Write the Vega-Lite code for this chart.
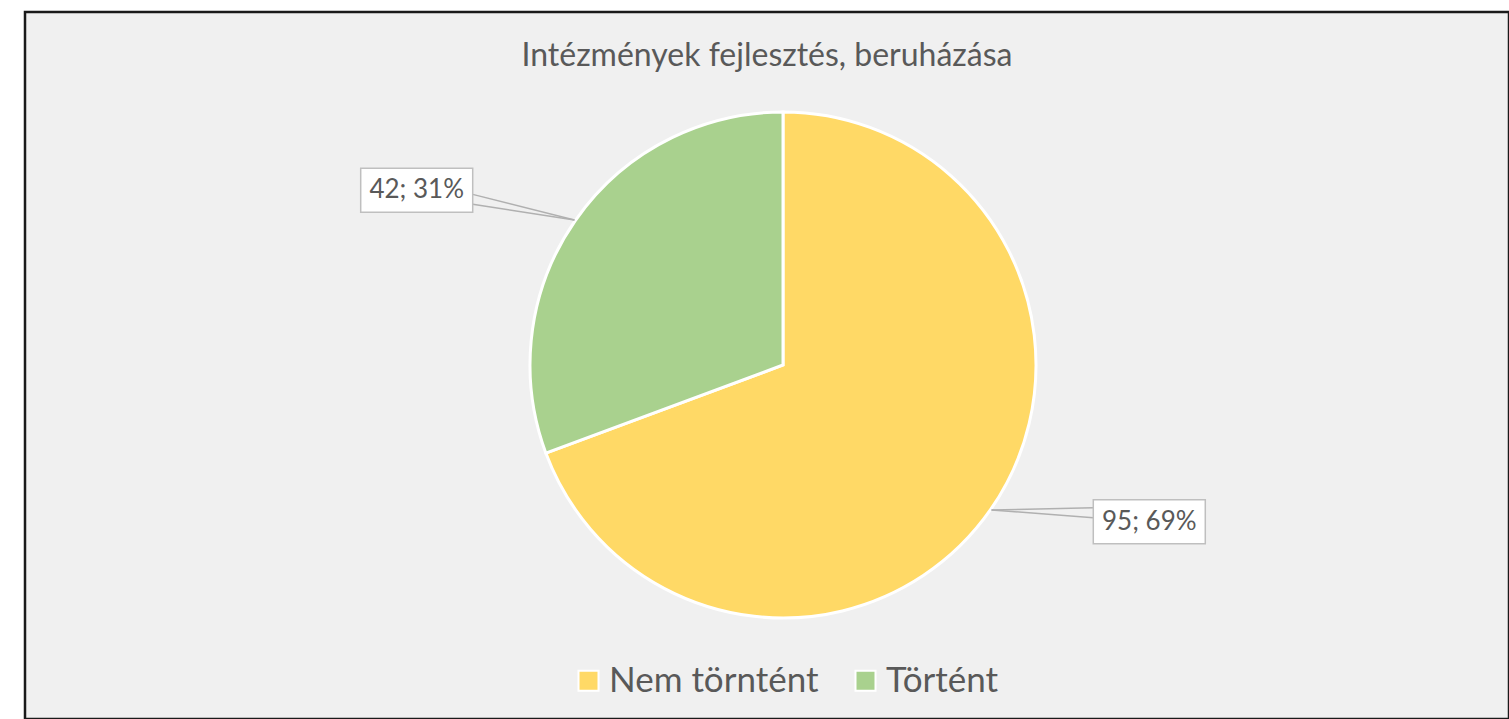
{
  "$schema": "https://vega.github.io/schema/vega-lite/v6.json",
  "width": 1484,
  "height": 707,
  "autosize": {"type": "none"},
  "padding": {"left": 25, "top": 12, "right": 0, "bottom": 0},
  "background": "white",
  "config": {
    "view": {"fill": "#f0f0f0", "stroke": "#1a1a1a", "strokeWidth": 2.5},
    "font": "Lato"
  },
  "title": {
    "text": "Intézmények fejlesztés, beruházása",
    "fontSize": 32,
    "font": "Lato",
    "fontWeight": "normal",
    "color": "#595959",
    "anchor": "middle",
    "baseline": "alphabetic",
    "offset": -86
  },
  "data": {
    "values": [
      {"category": "Nem törntént", "value": 95},
      {"category": "Történt", "value": 42}
    ]
  },
  "transform": [
    {"joinaggregate": [{"op": "sum", "field": "value", "as": "total"}]},
    {"window": [{"op": "sum", "field": "value", "as": "cum"}], "sort": [{"field": "category"}], "frame": [null, 0]},
    {"calculate": "2*PI*(datum.cum - datum.value/2)/datum.total", "as": "mid"},
    {"calculate": "datum.value + '; ' + round(100*datum.value/datum.total) + '%'", "as": "label"},
    {"calculate": "datum.mid - 0.183", "as": "la"},
    {"calculate": "402*sin(datum.la)", "as": "lx"},
    {"calculate": "402*cos(datum.la) + 9", "as": "ly"},
    {"calculate": "254*sin(datum.mid)", "as": "tx"},
    {"calculate": "254*cos(datum.mid)", "as": "ty"},
    {"calculate": "datum.lx - (datum.lx > 0 ? 1 : -1)*56", "as": "ex"},
    {"calculate": "datum.ly - (datum.ly > 0 ? 1 : -1)*4", "as": "ya"},
    {"calculate": "datum.ly - (datum.ly > 0 ? 1 : -1)*14", "as": "yb"},
    {"calculate": "datum.lx - 56", "as": "bx1"},
    {"calculate": "datum.lx + 56", "as": "bx2"},
    {"calculate": "datum.ly - 22", "as": "by1"},
    {"calculate": "datum.ly + 22", "as": "by2"}
  ],
  "layer": [
    {
      "mark": {"type": "arc", "outerRadius": 253, "stroke": "white", "strokeWidth": 3},
      "encoding": {
        "theta": {"field": "value", "type": "quantitative", "stack": true},
        "x": {"datum": 0, "type": "quantitative", "scale": {"domain": [-758, 726], "nice": false, "zero": false}, "axis": null},
        "y": {"datum": 0, "type": "quantitative", "scale": {"domain": [-354, 353], "nice": false, "zero": false}, "axis": null},
        "color": {
          "field": "category",
          "type": "nominal",
          "scale": {"domain": ["Nem törntént", "Történt"], "range": ["#FFD966", "#A9D18E"]},
          "legend": {
            "orient": "none",
            "legendX": 546,
            "legendY": 651,
            "direction": "horizontal",
            "title": null,
            "padding": 0,
            "symbolType": "square",
            "symbolSize": 400,
            "symbolStrokeColor": "white",
            "symbolStrokeWidth": 2,
            "symbolOpacity": 1,
            "labelFontSize": 35,
            "labelFont": "Lato",
            "labelColor": "#595959",
            "labelOffset": 3,
            "labelLimit": 0,
            "columnPadding": 29
          }
        }
      }
    },
    {
      "mark": {"type": "rule", "color": "#b0b0b0", "strokeWidth": 1.5},
      "encoding": {
        "x": {"field": "tx", "type": "quantitative"},
        "y": {"field": "ty", "type": "quantitative"},
        "x2": {"field": "ex"},
        "y2": {"field": "ya"}
      }
    },
    {
      "mark": {"type": "rule", "color": "#b0b0b0", "strokeWidth": 1.5},
      "encoding": {
        "x": {"field": "tx", "type": "quantitative"},
        "y": {"field": "ty", "type": "quantitative"},
        "x2": {"field": "ex"},
        "y2": {"field": "yb"}
      }
    },
    {
      "mark": {"type": "rect", "fill": "white", "stroke": "#bfbfbf", "strokeWidth": 1.5},
      "encoding": {
        "x": {"field": "bx1", "type": "quantitative"},
        "x2": {"field": "bx2"},
        "y": {"field": "by1", "type": "quantitative"},
        "y2": {"field": "by2"}
      }
    },
    {
      "mark": {"type": "text", "fontSize": 26, "font": "Lato", "color": "#595959", "align": "center", "baseline": "middle"},
      "encoding": {
        "x": {"field": "lx", "type": "quantitative"},
        "y": {"field": "ly", "type": "quantitative"},
        "text": {"field": "label"}
      }
    }
  ]
}
